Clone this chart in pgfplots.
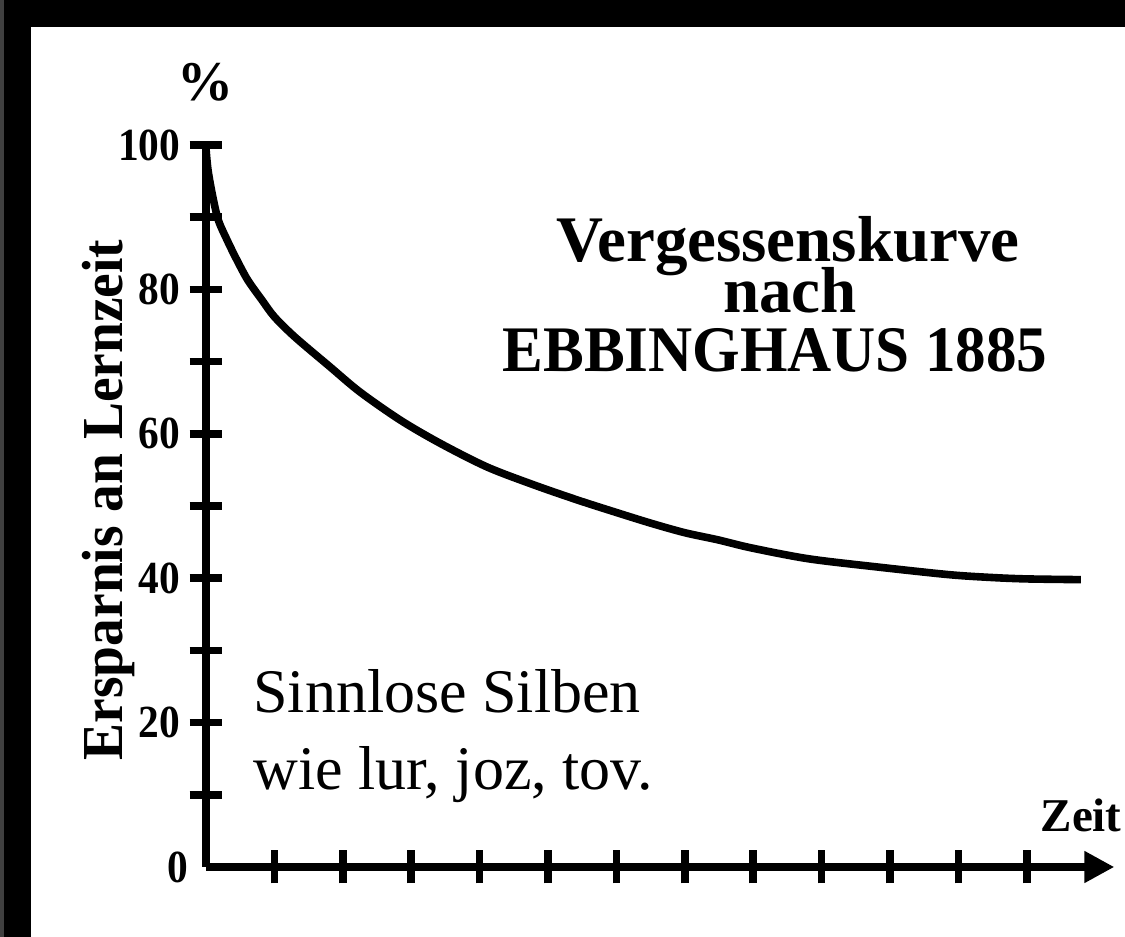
\documentclass[border=0pt]{standalone}
\usepackage{fontspec}
\setmainfont{Liberation Serif}
\newfontfamily\slab{Liberation Serif}[FakeStretch=0.9]
\newfontfamily\slaby{Liberation Serif}[FakeStretch=0.956]
\newfontfamily\slabe{Liberation Serif}[FakeStretch=0.94]
\usepackage{pgfplots}
\pgfplotsset{compat=1.18}
\usetikzlibrary{arrows.meta}
\begin{document}
\begin{tikzpicture}[x=0.5pt,y=0.5pt]
\useasboundingbox (0,0) rectangle (1125,937);
\fill[black] (0,0) rectangle (1125,937);
\fill[black!75] (0,0) rectangle (4,937);
\fill[white] (31,0) rectangle (1125,910);
\begin{axis}[
  at={(103pt,35pt)}, anchor=origin,
  x=34.2pt, y=3.61pt,
  xmin=0, xmax=13.28, ymin=0, ymax=100,
  axis x line*=bottom, axis y line*=left,
  xtick pos=bottom, ytick pos=left,
  axis line style={line width=3.8pt, black},
  x axis line style={-{Triangle[length=15pt,width=15pt]}},
  y axis line style={-},
  major tick style={line width=3.8pt, black},
  tick align=center, major tick length=16.5pt,
  xtick={1,...,12}, xticklabels={},
  ytick={10,20,...,100},
  yticklabels={,20,,40,,60,,80,,100},
  extra y ticks={0}, extra y tick labels={0},
  extra y tick style={major tick length=0pt, yticklabel style={xshift=-4pt}},
  /pgf/number format/assume math mode=true,
  yticklabel style={font=\slab\bfseries\fontsize{23}{23}\selectfont, inner sep=1pt, xshift=-3.5pt},
  clip=false,
]
\addplot[line width=3.8pt, black, smooth, tension=0.5] coordinates {
(0,99.5) (0.03,96.5) (0.1,92.8) (0.18,89.6) (0.31,86.8) (0.45,84.1)
(0.61,81.3) (0.82,78.5) (1.0,76.2) (1.3,73.4) (1.81,69.3) (2.25,65.8)
(2.84,61.9) (3.42,58.7) (4.11,55.4) (4.8,52.9) (5.44,50.8) (6.0,49.1)
(6.51,47.6) (7.0,46.3) (7.49,45.3) (7.97,44.2) (8.8,42.7) (9.77,41.6)
(10.85,40.5) (11.48,40.1) (12.0,39.9) (12.79,39.8)
};
\end{axis}
\node[font=\bfseries\fontsize{28}{28}\selectfont] at (205,855) {\%};
\node[font=\bfseries\fontsize{23.5}{23.5}\selectfont, anchor=base east, inner sep=0pt] at (1122,105) {Zeit};
\node[font=\slaby\bfseries\fontsize{29}{29}\selectfont, rotate=90, anchor=base, inner sep=0pt] at (122,437) {Ersparnis an Lernzeit};
\node[font=\bfseries\fontsize{32.5}{32.5}\selectfont, anchor=base, inner sep=0pt] at (788,675) {Vergessenskurve};
\node[font=\bfseries\fontsize{32.5}{32.5}\selectfont, anchor=base, inner sep=0pt] at (790,624) {nach};
\node[font=\slabe\bfseries\fontsize{32.5}{32.5}\selectfont, anchor=base, inner sep=0pt] at (775,565) {EBBINGHAUS 1885};
\node[font=\fontsize{31}{31}\selectfont, anchor=base west, inner sep=0pt] at (253,224) {Sinnlose Silben};
\node[font=\fontsize{31}{31}\selectfont, anchor=base west, inner sep=0pt] at (253,147) {wie lur, joz, tov.};
\end{tikzpicture}
\end{document}
